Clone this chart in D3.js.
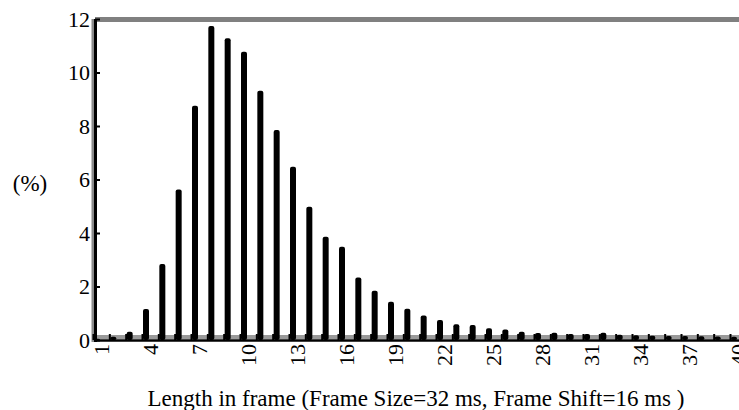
<!DOCTYPE html>
<html>
<head>
<meta charset="utf-8">
<script src="https://cdn.jsdelivr.net/npm/d3@7"></script>
<style>
  body { margin: 0; background: #fff; }
  text { font-family: "Liberation Serif", "Times New Roman", serif; fill: #000; }
</style>
</head>
<body>
<svg id="chart" width="739" height="410"></svg>
<script>
// frame lengths (categories) and share of segments in %
var lengths = [1, 2, 3, 4, 5, 6, 7, 8, 9, 10,
               11, 12, 13, 14, 15, 16, 17, 18, 19, 20,
               21, 22, 23, 24, 25, 26, 27, 28, 29, 30,
               31, 32, 33, 34, 35, 36, 37, 38, 39, 40];
var percents = [0.05, 0.12, 0.31, 1.16, 2.84, 5.63, 8.76, 11.74, 11.28, 10.78,
                9.32, 7.85, 6.48, 4.98, 3.86, 3.49, 2.34, 1.84, 1.43, 1.17,
                0.92, 0.75, 0.59, 0.56, 0.44, 0.39, 0.31, 0.26, 0.27, 0.22,
                0.22, 0.27, 0.2, 0.18, 0.16, 0.15, 0.15, 0.14, 0.13, 0.12];
var xTickLabels = [1, 4, 7, 10, 13, 16, 19, 22, 25, 28, 31, 34, 37, 40];
var yTickLabels = [0, 2, 4, 6, 8, 10, 12];

var svg = d3.select('#chart');

var x = d3.scaleLinear().domain([1, 40]).range([97, 734]);
var y = d3.scaleLinear().domain([0, 12]).range([340, 19]);

// gray frame pieces
svg.append('rect').attr('x', 95).attr('y', 17).attr('width', 644).attr('height', 5).attr('fill', '#808080');
svg.append('rect').attr('x', 91.5).attr('y', 19).attr('width', 3).attr('height', 323).attr('fill', '#8a8a8a');
svg.append('rect').attr('x', 96).attr('y', 335).attr('width', 643).attr('height', 4).attr('fill', '#9a9a9a');

// bars
svg.selectAll('.bar')
  .data(percents)
  .enter().append('rect')
  .attr('class', 'bar')
  .attr('x', function(d, i){ return x(lengths[i]) - 3; })
  .attr('y', function(d){ return y(d); })
  .attr('width', 6)
  .attr('height', function(d){ return y(0) - y(d); })
  .attr('rx', 2)
  .attr('fill', '#000');

// small ticks along the x axis, one per length
var xAxis = svg.append('g')
  .attr('transform', 'translate(-4,340)')
  .call(d3.axisBottom(x).tickValues(lengths).tickSize(-6).tickFormat(''));
xAxis.select('.domain').remove();
xAxis.selectAll('line').attr('stroke', '#000').attr('stroke-width', 2);

// x axis line
svg.append('line').attr('x1', 94).attr('x2', 739).attr('y1', 340.5).attr('y2', 340.5)
  .attr('stroke', '#000').attr('stroke-width', 2.5);

// y axis
var yAxis = svg.append('g')
  .attr('transform', 'translate(95,0)')
  .call(d3.axisLeft(y).tickValues(yTickLabels).tickSize(-5).tickPadding(5));
yAxis.select('.domain').remove();
yAxis.selectAll('line').attr('stroke', '#000').attr('stroke-width', 2);
yAxis.selectAll('text')
  .style('font-family', '"Liberation Serif", serif')
  .style('font-size', '22px')
  .attr('fill', '#000');

svg.append('line').attr('x1', 95.5).attr('x2', 95.5).attr('y1', 19).attr('y2', 342)
  .attr('stroke', '#000').attr('stroke-width', 3);

// rotated x labels
svg.selectAll('.xlab')
  .data(xTickLabels)
  .enter().append('text')
  .attr('class', 'xlab')
  .attr('transform', function(d){ return 'translate(' + (x(d) + 4) + ',344) rotate(-90)'; })
  .attr('text-anchor', 'end')
  .attr('dy', '0.35em')
  .style('font-size', '22px')
  .text(function(d){ return d; });

// titles
svg.append('text')
  .attr('x', 30).attr('y', 191)
  .attr('text-anchor', 'middle')
  .style('font-size', '23px')
  .text('(%)');

svg.append('text')
  .attr('x', 416).attr('y', 406)
  .attr('text-anchor', 'middle')
  .style('font-size', '23px')
  .text('Length in frame (Frame Size=32 ms, Frame Shift=16 ms )');
</script>
</body>
</html>
